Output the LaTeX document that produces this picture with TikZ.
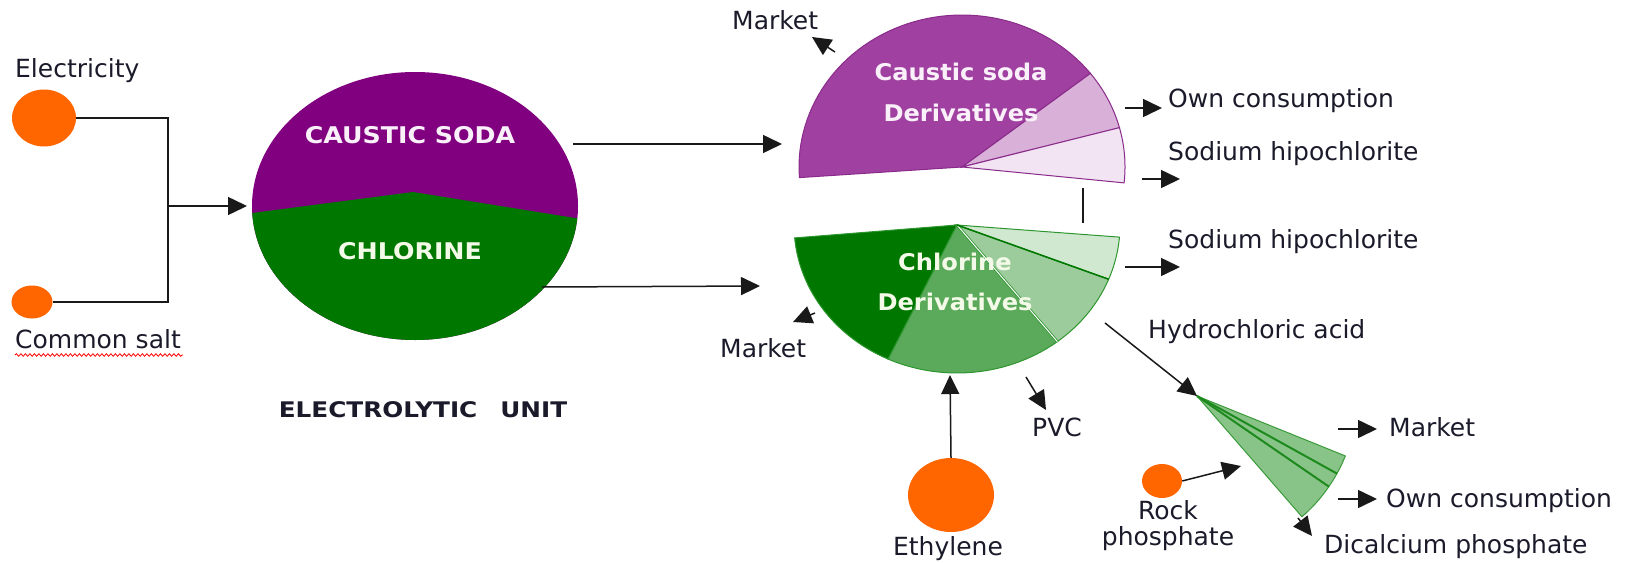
\documentclass[tikz,border=0pt]{standalone}
\usepackage{fontspec}
\setmainfont{DejaVu Sans}
\usetikzlibrary{arrows.meta,shapes.geometric,decorations.pathmorphing,calc}
\definecolor{orng}{HTML}{FF6600}
\definecolor{eupurple}{HTML}{800080}
\definecolor{eugreen}{HTML}{007800}
\definecolor{csA}{HTML}{A040A0}
\definecolor{csB}{HTML}{D8B0D8}
\definecolor{csC}{HTML}{F2E4F2}
\definecolor{csline}{HTML}{8A2A8A}
\definecolor{clA}{HTML}{007800}
\definecolor{clB}{HTML}{5BAA5B}
\definecolor{clC}{HTML}{9CCC9C}
\definecolor{clD}{HTML}{D0E8D0}
\definecolor{clline}{HTML}{2E962E}
\definecolor{conefill}{HTML}{88C488}
\definecolor{coneline}{HTML}{3A9A3A}
\definecolor{coneinner}{HTML}{1E8A1E}
\definecolor{txt}{HTML}{1A1A2A}
\definecolor{csw}{HTML}{FAF0FA}
\definecolor{clw}{HTML}{F4FAE8}
\tikzset{
  lbl/.style={font=\fontsize{25}{26}\selectfont, text=txt, inner sep=0pt},
  wlbl/.style={font=\bfseries\fontsize{23}{28}\selectfont, inner sep=0pt},
  src/.style={ellipse, fill=orng, inner sep=0pt},
  conn/.style={line width=1.5pt, draw=black!90},
  arr/.style={conn, -{Triangle[length=19pt,width=18pt]}},
}
\begin{document}
\begin{tikzpicture}[x=1pt,y=-1pt]
\useasboundingbox (0,0) rectangle (1637,562);

% ---------- sources ----------
\node[src, minimum width=64pt, minimum height=57pt] (elec) at (44,118) {};
\node[src, minimum width=41pt, minimum height=33pt] (salt) at (32,302) {};
\node[src, minimum width=86pt, minimum height=74pt] (ethy) at (951,495) {};
\node[src, minimum width=40pt, minimum height=34pt] (rock) at (1162,481) {};

\node[lbl, anchor=base west] (lelec) at (15,77) {Electricity};
\node[lbl, anchor=base west] (lsalt) at (15,348) {Common salt};
\draw[red, line width=0.8pt, decorate, decoration={snake, amplitude=1.3pt, segment length=4.5pt}] (15,355) -- (183,355);

% ---------- electrolytic unit ----------
\node[ellipse, minimum width=326pt, minimum height=268pt, inner sep=0pt] (eu) at (415,206) {};
\begin{scope}
  \clip (415,206) ellipse [x radius=163pt, y radius=134pt];
  \fill[eupurple] (240,50) rectangle (590,360);
  \fill[eugreen] (240,221) -- (252,213) -- (413,192) -- (575,218) -- (590,220) -- (590,360) -- (240,360) -- cycle;
\end{scope}
\node[wlbl, text=csw, anchor=base] (tcs) at (410,143) {\scalebox{1.1}[1]{CAUSTIC SODA}};
\node[wlbl, text=clw, anchor=base] (tcl) at (410,259) {\scalebox{1.1}[1]{CHLORINE}};
\node[wlbl, text=txt, anchor=base, font=\bfseries\fontsize{21.5}{26}\selectfont] (teu) at (423,417) {\scalebox{1.15}[1]{ELECTROLYTIC\hspace{20pt}UNIT}};

% ---------- caustic soda pie ----------
\filldraw[fill=csA, draw=csline, line width=1pt] (962,167) -- plot[domain=38:184, samples=60] ({962+163*cos(\x)},{167-152*sin(\x)}) -- cycle;
\filldraw[fill=csB, draw=csline, line width=1pt] (962,167) -- plot[domain=15:38, samples=20] ({962+163*cos(\x)},{167-152*sin(\x)}) -- cycle;
\filldraw[fill=csC, draw=csline, line width=1pt] (962,167) -- plot[domain=-6:15, samples=20] ({962+163*cos(\x)},{167-152*sin(\x)}) -- cycle;
\node[wlbl, text=csw, anchor=base] (tcs1) at (961,80) {\scalebox{1.05}[1]{Caustic soda}};
\node[wlbl, text=csw, anchor=base] (tcs2) at (961,121) {\scalebox{1.05}[1]{Derivatives}};

% ---------- chlorine pie ----------
\filldraw[fill=clA, draw=clline, line width=1pt] (957,225) -- plot[domain=185:245, samples=30] ({957+163*cos(\x)},{225-148*sin(\x)}) -- cycle;
\filldraw[fill=clB, draw=clline, line width=1pt] (957,225) -- plot[domain=245:308, samples=30] ({957+163*cos(\x)},{225-148*sin(\x)}) -- cycle;
\filldraw[fill=clC, draw=clline, line width=1pt] (957,225) -- plot[domain=308:338.5, samples=20] ({957+163*cos(\x)},{225-148*sin(\x)}) -- cycle;
\filldraw[fill=clD, draw=clline, line width=1pt] (957,225) -- plot[domain=338.5:355.3, samples=20] ({957+163*cos(\x)},{225-148*sin(\x)}) -- cycle;
\draw[draw=clline, double=white, double distance=1pt, line width=0.8pt] (957,225) -- ({957+163*cos(308)},{225-148*sin(308)});
\draw[draw=eugreen, line width=1.5pt] (957,225) -- ({957+163*cos(338.5)},{225-148*sin(338.5)});
\node[wlbl, text=clw, anchor=base] (tcl1) at (955,270) {\scalebox{1.05}[1]{Chlorine}};
\node[wlbl, text=clw, anchor=base] (tcl2) at (955,310) {\scalebox{1.05}[1]{Derivatives}};

% ---------- dicalcium cone ----------
\coordinate (cone) at (1197,396);
\filldraw[fill=conefill, draw=coneline, line width=1pt] (cone) -- plot[domain=22:49, samples=20] ({1197+160*cos(\x)},{396+160*sin(\x)}) -- cycle;
\draw[coneinner, line width=2pt] (cone) -- ($(cone)+(29:160)$);
\draw[coneinner, line width=2pt] (cone) -- ($(cone)+(34.5:160)$);

% ---------- coordinates for connectors ----------
\coordinate (jn) at (168,206);
\coordinate (euIn) at (247,206);
\coordinate (euO1) at (573,144);  \coordinate (csIn) at (782,144);
\coordinate (euO2) at (542,287);  \coordinate (clIn) at (760,286);
\coordinate (mkAa) at (835,52);   \coordinate (mkAb) at (812,37);
\coordinate (ocAa) at (1125,108); \coordinate (ocAb) at (1162,108);
\coordinate (shAa) at (1142,179); \coordinate (shAb) at (1180,179);
\coordinate (vA) at (1083,188);   \coordinate (vB) at (1083,223);
\coordinate (shBa) at (1125,267); \coordinate (shBb) at (1180,267);
\coordinate (hcA) at (1105,323);
\coordinate (mkBa) at (815,313);  \coordinate (mkBb) at (793,322);
\coordinate (clBot) at (950,375);
\coordinate (pvcA) at (1026,377); \coordinate (pvcB) at (1046,410);
\coordinate (rkB) at (1241,466);
\coordinate (mkCa) at (1338,429); \coordinate (mkCb) at (1377,429);
\coordinate (ocBa) at (1338,499); \coordinate (ocBb) at (1377,499);
\coordinate (dcA) at (1298,518);  \coordinate (dcB) at (1312,536);

% ---------- connectors ----------
\draw[conn] (elec.east) -| (jn);
\draw[conn] (salt.east) -| (jn);
\draw[arr] (jn) -- (euIn);
\draw[arr] (euO1) -- (csIn);
\draw[arr] (euO2) -- (clIn);
\draw[arr] (mkAa) -- (mkAb);
\draw[arr] (ocAa) -- (ocAb);
\draw[arr] (shAa) -- (shAb);
\draw[conn] (vA) -- (vB);
\draw[arr] (shBa) -- (shBb);
\draw[arr] (hcA) -- (cone);
\draw[arr] (mkBa) -- (mkBb);
\draw[arr] (ethy.north) -- (clBot);
\draw[arr] (pvcA) -- (pvcB);
\draw[arr] (rock.east) -- (rkB);
\draw[arr] (mkCa) -- (mkCb);
\draw[arr] (ocBa) -- (ocBb);
\draw[arr] (dcA) -- (dcB);

% ---------- labels ----------
\node[lbl, anchor=base west] (lmkA) at (732,29) {Market};
\node[lbl, anchor=base west] (locA) at (1168,107) {Own consumption};
\node[lbl, anchor=base west] (lshA) at (1168,160) {Sodium hipochlorite};
\node[lbl, anchor=base west] (lshB) at (1168,248) {Sodium hipochlorite};
\node[lbl, anchor=base west] (lhc) at (1148,338) {Hydrochloric acid};
\node[lbl, anchor=base west] (lmkB) at (720,357) {Market};
\node[lbl, anchor=base] (lethy) at (948,555) {Ethylene};
\node[lbl, anchor=base west] (lpvc) at (1032,436) {PVC};
\node[lbl, anchor=base west] (lmkC) at (1389,436) {Market};
\node[lbl, anchor=base west] (locB) at (1386,507) {Own consumption};
\node[lbl, anchor=base west] (ldc) at (1324,553) {Dicalcium phosphate};
\node[lbl, anchor=base, align=center] (lrock) at (1168,545) {Rock\\phosphate};
\end{tikzpicture}
\end{document}
